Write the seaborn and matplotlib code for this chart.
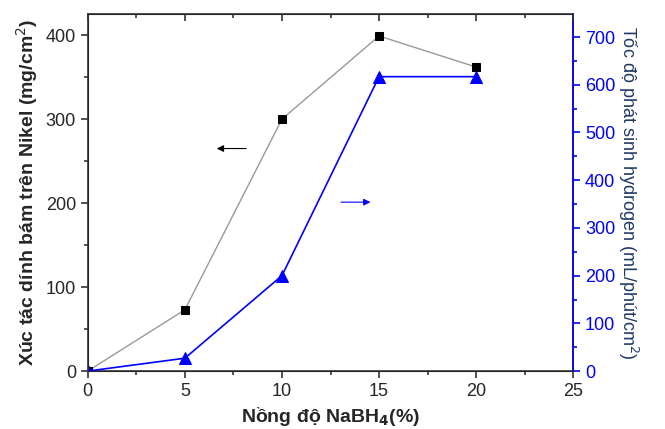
import matplotlib
matplotlib.use("Agg")
import matplotlib.pyplot as plt
import seaborn as sns
from matplotlib.ticker import MultipleLocator

nabh4 = [0, 5, 10, 15, 20]
nikel = [0, 73, 300, 399, 362]
hydrogen = [0, 27, 200, 617, 617]

sns.set_style("ticks")
plt.rcParams["font.family"] = ["Liberation Sans", "DejaVu Sans"]

fig, ax = plt.subplots(figsize=(6.65, 4.29), dpi=100)
fig.subplots_adjust(left=0.132, right=0.862, top=0.967, bottom=0.135)

sns.lineplot(x=nabh4, y=nikel, ax=ax, color="#999999", lw=1, marker="s",
             markersize=6, markerfacecolor="black", markeredgecolor="black")
ax.set_xlim(0, 25)
ax.set_ylim(0, 425)
ax.xaxis.set_major_locator(MultipleLocator(5))
ax.xaxis.set_minor_locator(MultipleLocator(2.5))
ax.yaxis.set_major_locator(MultipleLocator(100))
ax.yaxis.set_minor_locator(MultipleLocator(50))
ax.tick_params(axis="both", which="major", labelsize=13, length=5, width=1.2,
               direction="out", color="#333333")
ax.tick_params(axis="both", which="minor", length=3, width=1.2, direction="out",
               color="#333333")
for s in ax.spines.values():
    s.set_linewidth(1.2)
    s.set_color("#333333")
ax.set_xlabel("Nồng độ NaBH$_\\mathbf{4}$(%)", fontsize=14, fontweight="bold")
ax.set_ylabel("Xúc tác dính bám trên Nikel (mg/cm$^2$)", fontsize=14,
              fontweight="bold")

ax2 = ax.twinx()
sns.lineplot(x=nabh4, y=hydrogen, ax=ax2, color="blue", lw=1.2, marker="^",
             markersize=8, markerfacecolor="blue", markeredgecolor="blue")
ax2.set_ylim(0, 748)
ax2.yaxis.set_major_locator(MultipleLocator(100))
ax2.yaxis.set_minor_locator(MultipleLocator(50))
ax2.tick_params(axis="y", which="major", labelsize=13, length=5, width=1.2,
                colors="blue")
ax2.tick_params(axis="y", which="minor", length=3, width=1.2, colors="blue")
ax2.spines["right"].set_color("blue")
ax2.spines["right"].set_linewidth(1.2)
ax2.set_ylabel("Tốc độ phát sinh hydrogen (mL/phút/cm$^2$)", fontsize=13,
               color="#1F3864", rotation=270, labelpad=18)

ax.annotate("", xy=(6.5, 265), xytext=(8.3, 265),
            arrowprops=dict(arrowstyle="-|>", color="black", lw=0.8))
ax2.annotate("", xy=(14.7, 354), xytext=(12.9, 354),
             arrowprops=dict(arrowstyle="-|>", color="blue", lw=0.8))

# top axis: separate frameless axes with inward ticks only
ax3 = fig.add_axes(ax.get_position(), frameon=False)
ax3.set_xlim(0, 25)
ax3.xaxis.set_major_locator(MultipleLocator(5))
ax3.xaxis.set_minor_locator(MultipleLocator(2.5))
ax3.tick_params(axis="x", which="both", top=True, bottom=False,
                labeltop=False, labelbottom=False, direction="in", width=1.2,
                color="#333333")
ax3.tick_params(axis="x", which="major", length=5)
ax3.tick_params(axis="x", which="minor", length=3)
ax3.tick_params(axis="y", which="both", left=False, right=False,
                labelleft=False, labelright=False)

fig.savefig("out.png", dpi=100)
